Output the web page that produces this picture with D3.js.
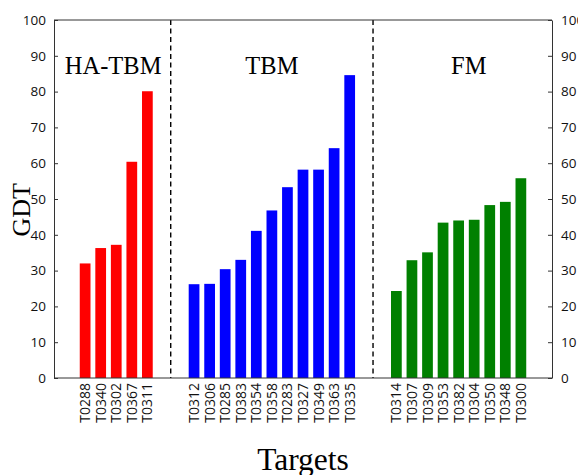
<!DOCTYPE html>
<html>
<head>
<meta charset="utf-8">
<script src="https://cdn.jsdelivr.net/npm/d3@7"></script>
<style>
  body { margin: 0; background: #fff; }
  .tick text { font-family: "Open Sans", sans-serif; fill: #111; }
</style>
</head>
<body>
<div id="chart"></div>
<script>
// Données (GDT par cible)
const haTargets  = ["T0288", "T0340", "T0302", "T0367", "T0311"];
const haValues   = [32.0, 36.3, 37.2, 60.4, 80.1];
const tbmTargets = ["T0312", "T0306", "T0285", "T0383", "T0354", "T0358", "T0283", "T0327", "T0349", "T0363", "T0335"];
const tbmValues  = [26.2, 26.3, 30.4, 33.0, 41.1, 46.8, 53.3, 58.2, 58.2, 64.2, 84.6];
const fmTargets  = ["T0314", "T0307", "T0309", "T0353", "T0382", "T0304", "T0350", "T0348", "T0300"];
const fmValues   = [24.3, 32.9, 35.1, 43.4, 44.0, 44.2, 48.3, 49.2, 55.8];
const groupNames = ["HA-TBM", "TBM", "FM"];
const groupColors = ["#ff0000", "#0000ff", "#008000"];
const yTicks = [0, 10, 20, 30, 40, 50, 60, 70, 80, 90, 100];

const width = 578, height = 475;
const margin = { top: 20, right: 26, bottom: 97, left: 54 };
const GAP = 2; // cases vides entre groupes

// Construction des barres (index sur l'axe x)
const groups = [
  { name: groupNames[0], targets: haTargets, values: haValues, color: groupColors[0], labelShift: -0.2 },
  { name: groupNames[1], targets: tbmTargets, values: tbmValues, color: groupColors[1], labelShift: 0 },
  { name: groupNames[2], targets: fmTargets, values: fmValues, color: groupColors[2], labelShift: 0.65 }
];
const bars = [];
let idx = 0;
groups.forEach(g => {
  g.start = idx;
  g.targets.forEach((t, i) => bars.push({ target: t, value: g.values[i], color: g.color, pos: idx++ }));
  g.end = idx - 1;
  idx += GAP;
});
const lastPos = idx - GAP - 1;

const x = d3.scaleLinear().domain([-2, lastPos + 2]).range([margin.left, width - margin.right]);
const y = d3.scaleLinear().domain([0, 100]).range([height - margin.bottom, margin.top]);
const slot = x(1) - x(0);
const barW = slot * 0.69;

const svg = d3.select("#chart").append("svg")
  .attr("width", width).attr("height", height);

// Barres
svg.append("g")
  .selectAll("rect")
  .data(bars)
  .join("rect")
    .attr("x", d => x(d.pos) - barW / 2)
    .attr("y", d => y(d.value))
    .attr("width", barW)
    .attr("height", d => y(0) - y(d.value))
    .attr("fill", d => d.color);

// Séparateurs pointillés
const seps = groups.slice(0, -1).map(g => g.end + (GAP + 1) / 2);
svg.append("g")
  .selectAll("line")
  .data(seps)
  .join("line")
    .attr("x1", d => x(d)).attr("x2", d => x(d))
    .attr("y1", y(100)).attr("y2", y(0))
    .attr("stroke", "#000")
    .attr("stroke-width", 1.4)
    .attr("stroke-dasharray", "5,3.5");

// Cadre (haut + bas)
svg.append("line")
  .attr("x1", x.range()[0]).attr("x2", x.range()[1])
  .attr("y1", y(100)).attr("y2", y(100))
  .attr("stroke", "#333");
svg.append("line")
  .attr("x1", x.range()[0]).attr("x2", x.range()[1])
  .attr("y1", y(0)).attr("y2", y(0))
  .attr("stroke", "#333");

// Axes Y (gauche / droite, graduations vers l'intérieur)
svg.append("g")
  .attr("transform", `translate(${margin.left},0)`)
  .call(d3.axisLeft(y).tickValues(yTicks).tickSizeInner(-4).tickSizeOuter(0).tickPadding(8))
  .call(g => g.select(".domain").attr("stroke", "#333"))
  .call(g => g.selectAll(".tick line").attr("stroke", "#333"))
  .call(g => g.selectAll(".tick text").attr("font-size", 13.5));

svg.append("g")
  .attr("transform", `translate(${width - margin.right},0)`)
  .call(d3.axisRight(y).tickValues(yTicks).tickSizeInner(-4).tickSizeOuter(0).tickPadding(9))
  .call(g => g.select(".domain").attr("stroke", "#333"))
  .call(g => g.selectAll(".tick line").attr("stroke", "#333"))
  .call(g => g.selectAll(".tick text").attr("font-size", 13.5));

// Étiquettes des cibles (verticales)
svg.append("g")
  .selectAll("text")
  .data(bars)
  .join("text")
    .attr("transform", d => `translate(${x(d.pos) + 5},${y(0) + 5}) rotate(-90)`)
    .attr("text-anchor", "end")
    .attr("font-family", "Open Sans, sans-serif")
    .attr("font-size", 14)
    .attr("fill", "#111")
    .text(d => d.target);

// Noms des groupes
svg.append("g")
  .selectAll("text")
  .data(groups)
  .join("text")
    .attr("x", g => x((g.start + g.end) / 2 + g.labelShift))
    .attr("y", y(85))
    .attr("text-anchor", "middle")
    .attr("font-family", "Liberation Serif, Times New Roman, serif")
    .attr("font-size", 24.5)
    .attr("fill", "#000")
    .text(g => g.name);

// Titres d'axes
svg.append("text")
  .attr("transform", `translate(30, ${y(47)}) rotate(-90)`)
  .attr("text-anchor", "middle")
  .attr("font-family", "Liberation Serif, Times New Roman, serif")
  .attr("font-size", 26)
  .text("GDT");

svg.append("text")
  .attr("x", (margin.left + width - margin.right) / 2)
  .attr("y", 470)
  .attr("text-anchor", "middle")
  .attr("font-family", "Liberation Serif, Times New Roman, serif")
  .attr("font-size", 31.5)
  .text("Targets");
</script>
</body>
</html>
